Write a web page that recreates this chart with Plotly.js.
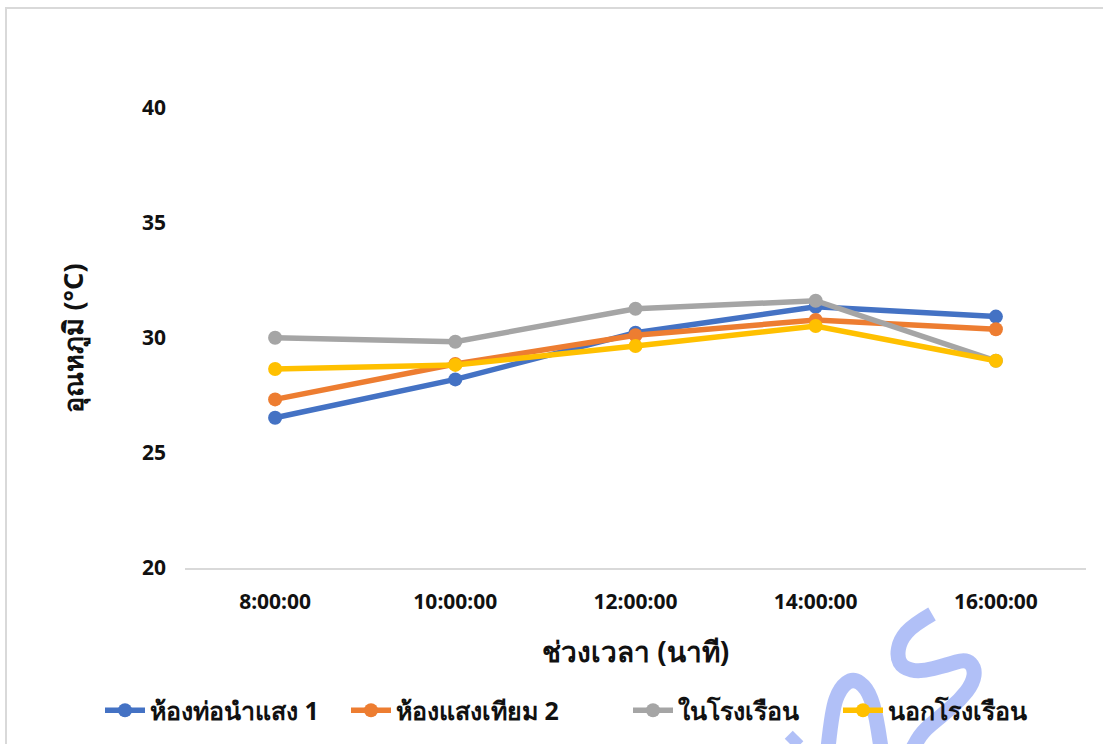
<!DOCTYPE html>
<html>
<head>
<meta charset="utf-8">
<script src="https://cdn.plot.ly/plotly-3.0.1.min.js"></script>
<style>
  html, body { margin: 0; padding: 0; background: #fff; }
  #wrap { position: relative; width: 1103px; height: 744px; overflow: hidden; }
  #frame { position: absolute; left: 5px; top: 7px; width: 1200px; height: 900px;
           border-left: 2px solid #d9d9d9; border-top: 2px solid #d9d9d9; pointer-events: none; }
  #chart { position: absolute; left: 0; top: 0; width: 1103px; height: 744px; }
</style>
</head>
<body>
<div id="wrap">
  <div id="chart"></div>
  <div id="frame"></div>
</div>
<script>
// Temperature readings through the day at four locations
const times = ['8:00:00', '10:00:00', '12:00:00', '14:00:00', '16:00:00'];
const seriesNames = ['ห้องท่อนำแสง 1', 'ห้องแสงเทียม 2', 'ในโรงเรือน', 'นอกโรงเรือน'];
const room1 = [26.53, 28.2, 30.23, 31.36, 30.93];
const room2 = [27.33, 28.87, 30.12, 30.78, 30.38];
const inside = [30.01, 29.84, 31.27, 31.62, 29.01];
const outside = [28.65, 28.83, 29.65, 30.52, 29.01];
const yTicks = [20, 25, 30, 35, 40];

const colors = ['#4472C4', '#ED7D31', '#A5A5A5', '#FFC000'];
const seriesValues = [room1, room2, inside, outside];

const FONT = 'Noto Sans, Lato, sans-serif';
const W = 1103, H = 744;
const M = { l: 185, r: 17, t: 108, b: 176 };

const legendIds = ['legend', 'legend2', 'legend3', 'legend4'];
// left edge of each legend entry, in page pixels
const legendLeft = [100, 346, 628, 838];

const traces = seriesValues.map((vals, i) => ({
  type: 'scatter',
  mode: 'lines+markers',
  name: seriesNames[i],
  legend: legendIds[i],
  x: times,
  y: vals,
  line: { color: colors[i], width: 5.5 },
  marker: { color: colors[i], size: 14 }
}));

// Hand-drawn "ms" signature stroke in the lower right, page pixels
const sigStrokes = [
  [[790, 744], [798, 736]],
  [[828, 748], [832, 710], [840, 688], [853, 678], [867, 688], [875, 710], [881, 748]],
  [[932, 614], [913, 625], [900, 640], [897, 657], [903, 668], [920, 672], [947, 665],
   [966, 659], [975, 668], [973, 683], [960, 700], [940, 717], [922, 732], [913, 748]]
];
const plotW = W - M.l - M.r, plotH = H - M.t - M.b;
const px2paper = ([x, y]) => [((x - M.l) / plotW).toFixed(4), ((H - M.b - y) / plotH).toFixed(4)];
function smoothPath(pts) {
  const p = pts.map(px2paper);
  let d = 'M' + p[0].join(',');
  if (p.length === 2) return d + ' L' + p[1].join(',');
  for (let i = 1; i < p.length - 1; i++) {
    const mx = ((+p[i][0] + +p[i + 1][0]) / 2).toFixed(4);
    const my = ((+p[i][1] + +p[i + 1][1]) / 2).toFixed(4);
    d += ' Q' + p[i].join(',') + ' ' + mx + ',' + my;
  }
  return d + ' L' + p[p.length - 1].join(',');
}
const sigShapes = sigStrokes.map(s => ({
  type: 'path', xref: 'paper', yref: 'paper', layer: 'above',
  path: smoothPath(s),
  line: { color: 'rgba(100,130,240,0.5)', width: 15 }
}));

const legendFont = { family: FONT, size: 25, color: '#111', weight: 'bold' };

const layout = {
  width: W,
  height: H,
  margin: M,
  paper_bgcolor: 'rgba(0,0,0,0)',
  plot_bgcolor: 'rgba(0,0,0,0)',
  showlegend: true,
  font: { family: FONT, color: '#000' },
  xaxis: {
    type: 'category',
    range: [-0.5, 4.5],
    showgrid: false,
    zeroline: false,
    showline: true,
    linecolor: '#d9d9d9',
    linewidth: 2,
    ticks: '',
    ticklabelstandoff: 14,
    tickfont: { family: FONT, size: 21, color: '#111', weight: 'bold' },
    title: { text: 'ช่วงเวลา (นาที)', standoff: 28,
             font: { family: FONT, size: 28, color: '#111', weight: 'bold' } }
  },
  yaxis: {
    range: [20, 40],
    tickvals: yTicks,
    ticktext: yTicks.map(String),
    showgrid: false,
    zeroline: false,
    showline: false,
    ticks: '',
    ticklabelstandoff: 18,
    tickfont: { family: FONT, size: 21, color: '#111', weight: 'bold' },
    title: { text: 'อุณหภูมิ (°C)', standoff: 50,
             font: { family: FONT, size: 27, color: '#111', weight: 'bold' } }
  },
  shapes: sigShapes
};

legendIds.forEach((id, i) => {
  layout[id] = {
    orientation: 'h',
    xref: 'container', yref: 'container',
    x: legendLeft[i] / W, xanchor: 'left',
    y: 0.045, yanchor: 'middle',
    bgcolor: 'rgba(0,0,0,0)',
    font: legendFont,
    itemwidth: 40
  };
});

Plotly.newPlot('chart', traces, layout, { staticPlot: true, displayModeBar: false });
</script>
</body>
</html>
